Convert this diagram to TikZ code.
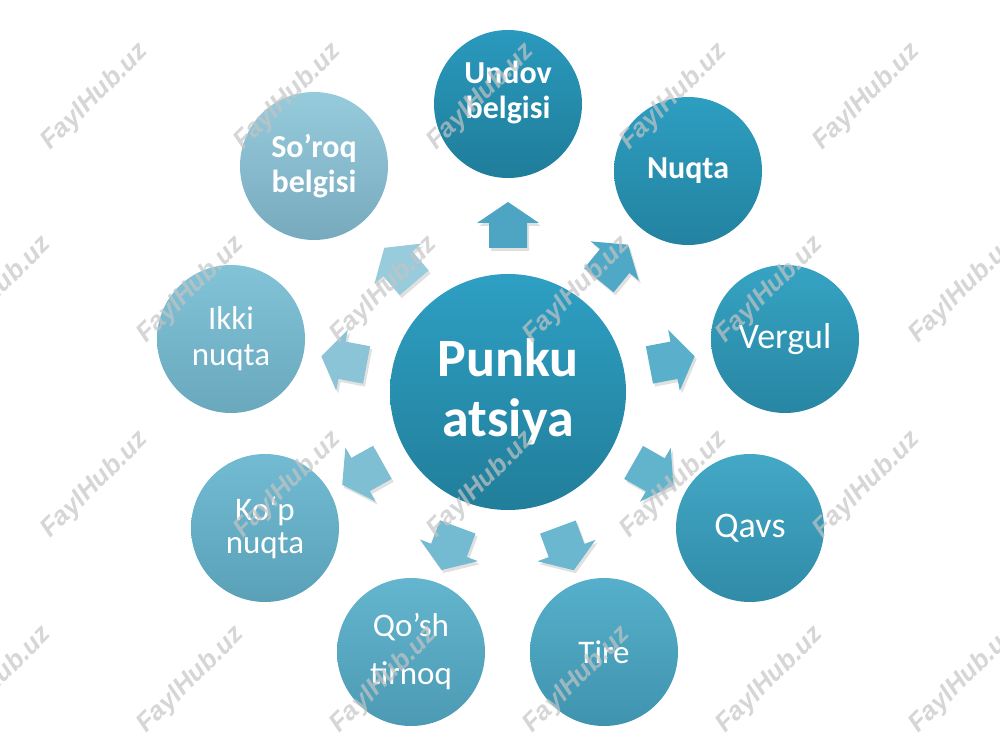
\documentclass[tikz,border=0pt]{standalone}
\usepackage{fontspec}
\setmainfont{Carlito}
\newfontfamily\wmfont{Liberation Sans}
\usetikzlibrary{calc,shadows}
\definecolor{ctrT}{HTML}{2E9FC3}\definecolor{ctrB}{HTML}{217E9A}
\definecolor{c1T}{HTML}{2A99BD}\definecolor{c1B}{HTML}{1F7D99}
\definecolor{c2T}{HTML}{2D9EC1}\definecolor{c2B}{HTML}{2382A0}
\definecolor{c3T}{HTML}{36A3C3}\definecolor{c3B}{HTML}{2886A3}
\definecolor{c4T}{HTML}{43A8C6}\definecolor{c4B}{HTML}{308BA7}
\definecolor{c5T}{HTML}{56B0CB}\definecolor{c5B}{HTML}{3F93AE}
\definecolor{c6T}{HTML}{64B5CE}\definecolor{c6B}{HTML}{4C9AB3}
\definecolor{c7T}{HTML}{72BBD2}\definecolor{c7B}{HTML}{5AA1B8}
\definecolor{c8T}{HTML}{82C3D7}\definecolor{c8B}{HTML}{69A8BD}
\definecolor{c9T}{HTML}{96CBDC}\definecolor{c9B}{HTML}{77AABD}
\definecolor{a1}{HTML}{4DA5C3}\definecolor{a2}{HTML}{4FA8C5}
\definecolor{a3}{HTML}{5AAFCB}\definecolor{a4}{HTML}{62B3CC}
\definecolor{a5}{HTML}{6AB7CF}\definecolor{a6}{HTML}{74BAD0}
\definecolor{a7}{HTML}{7EBFD4}\definecolor{a8}{HTML}{8BC4D7}
\definecolor{a9}{HTML}{98CBDB}
\definecolor{wmgray}{HTML}{C4C4C4}
\newcommand\blockarrow[3]{% target, angle, colour
  \fill[barrow, fill=#3, shift={($(ctr)!167pt!(#1)$)}, rotate=#2]
    (-23,-19) -- (2,-19) -- (2,-31) -- (23,0) -- (2,31) -- (2,19) -- (-23,19) -- cycle;}
\begin{document}
\begin{tikzpicture}[x=1pt,y=1pt,
  bubble/.style={circle, minimum size=148pt, inner sep=0pt, text=white, align=center,
                 font=\fontsize{33}{36}\selectfont},
  boldbubble/.style={bubble, font=\fontsize{32}{35}\selectfont\bfseries},
  barrow/.style={drop shadow={shadow xshift=2pt, shadow yshift=-3pt, opacity=0.12, fill=black}},
  wm/.style={text=wmgray, opacity=0.7, rotate=45, font=\wmfont\bfseries\itshape\fontsize{26}{28}\selectfont}]
\useasboundingbox (0,0) rectangle (1000,750);
\node[circle, minimum size=236pt, inner sep=0pt, top color=ctrT, bottom color=ctrB,
      text=white, align=center, font=\fontsize{54}{60}\selectfont\bfseries] (ctr) at (508,358) {Punku\\atsiya};
\node[boldbubble, top color=c1T, bottom color=c1B,
      label={[text=white, align=center, font=\fontsize{32}{35}\selectfont\bfseries, yshift=12pt]center:Undov\\belgisi}] (undov) at (508,646) {};
\node[boldbubble, top color=c2T, bottom color=c2B] (nuqta) at (688,579) {Nuqta};
\node[bubble, top color=c3T, bottom color=c3B, font=\fontsize{36}{40}\selectfont] (vergul) at (785,411) {Vergul};
\node[bubble, top color=c4T, bottom color=c4B, font=\fontsize{36}{40}\selectfont] (qavs) at (750,222) {Qavs};
\node[bubble, top color=c5T, bottom color=c5B] (tire) at (604,98) {Tire};
\node[bubble, top color=c6T, bottom color=c6B] (qosh) at (411,98) {Qo’sh\\[12pt]tirnoq};
\node[bubble, top color=c7T, bottom color=c7B, font=\fontsize{33}{33}\selectfont] (kop) at (265,222) {Ko‘p\\nuqta};
\node[bubble, top color=c8T, bottom color=c8B] (ikki) at (231,411) {Ikki\\nuqta};
\node[boldbubble, top color=c9T, bottom color=c9B] (soroq) at (314,584) {So’roq\\belgisi};
\blockarrow{undov}{90}{a1}
\blockarrow{nuqta}{50.8}{a2}
\blockarrow{vergul}{10.8}{a3}
\blockarrow{qavs}{-29.7}{a4}
\blockarrow{tire}{-69.7}{a5}
\blockarrow{qosh}{-110.5}{a6}
\blockarrow{kop}{-150.8}{a7}
\blockarrow{ikki}{169.2}{a8}
\blockarrow{soroq}{130.6}{a9}
\foreach \x in {95,288,481,674,867}{
  \node[wm] (wma\x) at (\x,653) {FaylHub.uz};
  \node[wm] (wmc\x) at (\x,265) {FaylHub.uz};}
\foreach \x in {-2,191,384,577,770,963}{
  \node[wm] (wmb\x) at (\x,460) {FaylHub.uz};
  \node[wm] (wmd\x) at (\x,70) {FaylHub.uz};}
\end{tikzpicture}
\end{document}
